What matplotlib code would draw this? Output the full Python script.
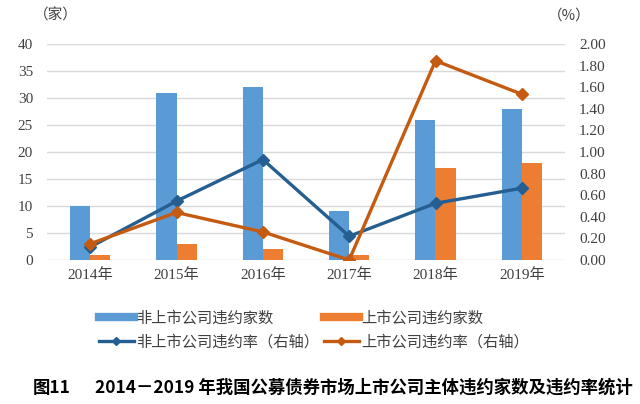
import matplotlib
matplotlib.use("Agg")
import matplotlib.pyplot as plt
from matplotlib.lines import Line2D
import numpy as np

plt.rcParams['font.family'] = ['Liberation Serif', 'Noto Sans CJK SC', 'DejaVu Sans']

categories = ["2014年", "2015年", "2016年", "2017年", "2018年", "2019年"]
nonlisted_count = [10, 31, 32, 9, 26, 28]
listed_count = [1, 3, 2, 1, 17, 18]
nonlisted_rate = [0.12, 0.545, 0.93, 0.22, 0.525, 0.665]
listed_rate = [0.15, 0.44, 0.26, 0.0, 1.845, 1.535]

left_ticks = [0, 5, 10, 15, 20, 25, 30, 35, 40]
right_ticks = [0.0, 0.2, 0.4, 0.6, 0.8, 1.0, 1.2, 1.4, 1.6, 1.8, 2.0]

c_blue_bar = "#5B9BD5"
c_orange_bar = "#ED7D31"
c_blue_line = "#255E91"
c_orange_line = "#C55A11"
cjk = ['Noto Sans CJK SC', 'DejaVu Sans']

fig = plt.figure(figsize=(6.4, 4.04), dpi=100)
ax = fig.add_axes([47/640, 1-260/404, (565-47)/640, (260-44)/404])
x = np.arange(len(categories))
w = 0.232
ax.bar(x - w/2, nonlisted_count, width=w, color=c_blue_bar, zorder=2)
ax.bar(x + w/2, listed_count, width=w, color=c_orange_bar, zorder=2)
ax.set_xlim(-0.5, len(categories) - 0.5)
ax.set_ylim(0, 40)
ax.set_yticks(left_ticks)
ax.set_yticklabels([str(t) for t in left_ticks], fontsize=11, color="#404040")
ax.set_xticks(x)
ax.set_xticklabels(categories, fontsize=11, color="#404040",
                   family=['Liberation Serif', 'Noto Sans CJK SC'])
ax.tick_params(length=0, pad=6)
ax.tick_params(axis='y', pad=10)
ax.grid(axis='y', color="#D9D9D9", linewidth=1, zorder=0)
for s in ax.spines.values():
    s.set_visible(False)

ax2 = ax.twinx()
ax2.plot(x, nonlisted_rate, color=c_blue_line, lw=2.4, marker='D', ms=6, zorder=3)
ax2.plot(x, listed_rate, color=c_orange_line, lw=2.4, marker='D', ms=6, zorder=3)
ax2.set_ylim(0, 2.0)
ax2.set_yticks(right_ticks)
ax2.set_yticklabels([f"{t:.2f}" for t in right_ticks], fontsize=11, color="#404040")
ax2.tick_params(length=0, pad=10)
for s in ax2.spines.values():
    s.set_visible(False)

fig.text(56/640, 1-16/404, "（家）", fontsize=10.5, family=cjk, color="#404040",
         ha='center', va='center')
fig.text(569/640, 1-16/404, "（%）", fontsize=10.5, family=cjk, color="#404040",
         ha='center', va='center')

handles = [
    Line2D([], [], color=c_blue_bar, lw=6),
    Line2D([], [], color=c_blue_line, lw=2.4, marker='D', ms=4),
    Line2D([], [], color=c_orange_bar, lw=6),
    Line2D([], [], color=c_orange_line, lw=2.4, marker='D', ms=4),
]
labels = ["非上市公司违约家数", "非上市公司违约率（右轴）", "上市公司违约家数", "上市公司违约率（右轴）"]
fig.legend(handles, labels, ncol=2, loc='center', bbox_to_anchor=(0.49, 1-330/404),
           frameon=False, prop={'family': cjk, 'size': 11}, handlelength=2.3,
           handletextpad=0.15, columnspacing=0.3, labelspacing=0.45,
           labelcolor="#404040")

fig.text(33/640, 1-388/404, "图11", fontsize=12.5, family=cjk, weight='bold',
         ha='left', va='center')
fig.text(95/640, 1-388/404, "2014－2019 年我国公募债券市场上市公司主体违约家数及违约率统计",
         fontsize=12.5, family=cjk, weight='bold', ha='left', va='center')

fig.savefig("out.png", dpi=100)
